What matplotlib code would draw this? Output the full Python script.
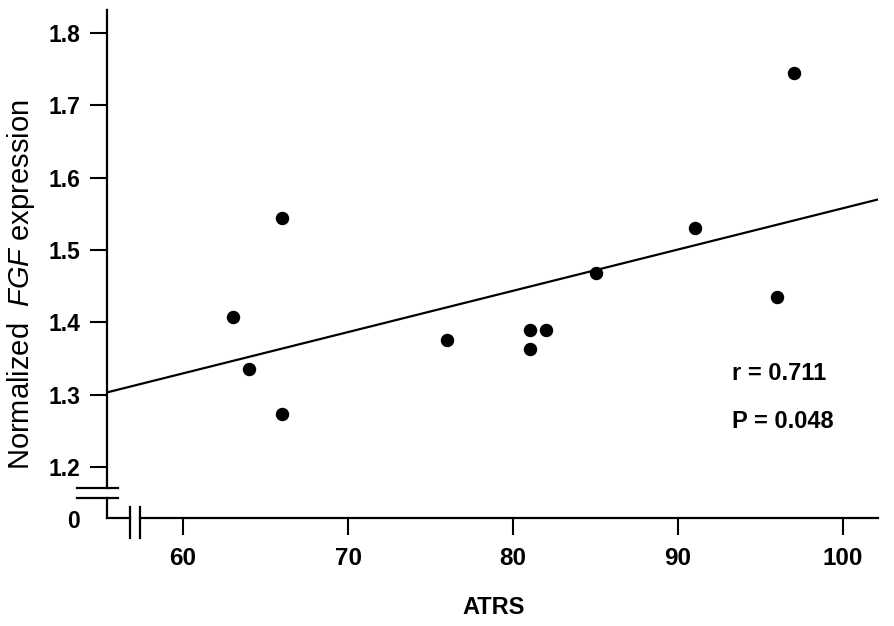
import numpy as np
import matplotlib
matplotlib.use("Agg")
import matplotlib.pyplot as plt
from matplotlib.lines import Line2D

plt.rcParams["font.family"] = ["Liberation Sans", "DejaVu Sans"]
plt.rcParams["mathtext.fontset"] = "custom"
plt.rcParams["mathtext.rm"] = "Liberation Sans"
plt.rcParams["mathtext.it"] = "Liberation Sans:italic"

# data
atrs = [63, 64, 66, 66, 76, 81, 81, 82, 85, 91, 96, 97]
fgf = [1.407, 1.335, 1.544, 1.274, 1.375, 1.390, 1.363, 1.390, 1.468, 1.530, 1.435, 1.745]
xticks = [60, 70, 80, 90, 100]
yticks = [1.2, 1.3, 1.4, 1.5, 1.6, 1.7, 1.8]
r_text = "r = 0.711"
p_text = "P = 0.048"

W, H = 894, 626
fig = plt.figure(figsize=(W / 100, H / 100), dpi=100)
ax = fig.add_axes([107 / W, 1 - 518 / H, (878 - 107) / W, (518 - 10) / H])
ax.set_xlim(55.39, 102.12)
ax.set_ylim(1.1295, 1.832)

ax.scatter(atrs, fgf, s=75, color="black", zorder=3)

slope, icpt = np.polyfit(atrs, fgf, 1)
xl = np.array(ax.get_xlim())
ax.plot(xl, icpt + slope * xl, color="black", lw=1.6)

for s in ax.spines.values():
    s.set_visible(False)
ax.set_xticks(xticks)
ax.set_yticks(yticks)
ax.set_xticklabels([str(v) for v in xticks])
ax.set_yticklabels(["%.1f" % v for v in yticks])
ax.tick_params(length=12, width=1.5)
ax.tick_params(axis="x", pad=9, labelsize=17.5)
ax.tick_params(axis="y", pad=7, labelsize=16.5)
for lab in ax.get_xticklabels() + ax.get_yticklabels():
    lab.set_fontweight("bold")


def px(x, y):
    return x / W, 1 - y / H


def seg(x0, y0, x1, y1):
    (a, b), (c, d) = px(x0, y0), px(x1, y1)
    fig.add_artist(Line2D([a, c], [b, d], color="black", lw=1.6,
                          transform=fig.transFigure))


# axis lines with breaks
seg(107, 10, 107, 488)
seg(107, 498, 107, 518)
seg(107, 518, 130, 518)
seg(140, 518, 878, 518)
seg(77, 488, 118, 488)
seg(77, 498, 118, 498)
seg(130, 507, 130, 538)
seg(140, 507, 140, 538)

fig.text(*px(80, 521), "0", ha="right", va="center", fontsize=16.5, fontweight="bold")
fig.text(*px(21, 285), "Normalized  $\\mathit{FGF}$ expression", rotation=90,
         ha="center", va="center", fontsize=21)
fig.text(*px(494, 608), "ATRS", ha="center", va="center", fontsize=17, fontweight="bold")
fig.text(*px(732, 374), r_text, ha="left", va="center", fontsize=17, fontweight="bold")
fig.text(*px(732, 421), p_text, ha="left", va="center", fontsize=17, fontweight="bold")

fig.savefig("out.png", dpi=100)
